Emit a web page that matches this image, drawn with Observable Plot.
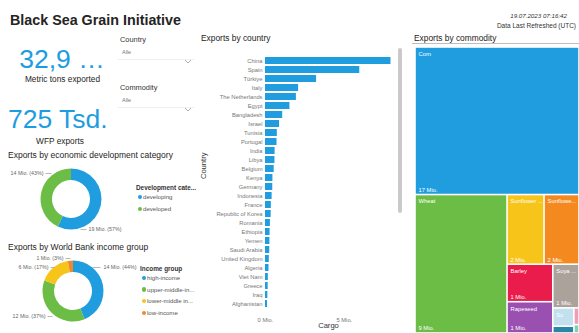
<!DOCTYPE html>
<html><head><meta charset="utf-8">
<script src="https://cdn.jsdelivr.net/npm/d3@7"></script>
<script src="https://cdn.jsdelivr.net/npm/@observablehq/plot@0.6"></script>
<style>
html,body{margin:0;padding:0;background:#fff;}
#root{position:relative;width:579px;height:333px;overflow:hidden;font-family:"Liberation Sans",Arial,sans-serif;color:#252423;}
.abs{position:absolute;white-space:nowrap;line-height:1;}
.plot{position:absolute;}
.plot svg{display:block;overflow:visible;}
</style></head><body><div id="root"></div>
<script>
// ---------- data ----------
const titleText = "Black Sea Grain Initiative";
const refreshedAt = "19.07.2023 07:16:42";
const refreshedLabel = "Data Last Refreshed (UTC)";
const kpiValues = ["32,9 …", "725 Tsd."];
const kpiLabels = ["Metric tons exported", "WFP exports"];
const slicerNames = ["Country", "Commodity"];
const slicerValues = ["Alle", "Alle"];

const devCategories = ["developing", "developed"];
const devValues = [18.8, 14.1];
const devColors = ["#1f9ddf", "#6cbd45"];

const incomeGroups = ["high-income", "upper-middle-in...", "lower-middle in...", "low-income"];
const incomeValues = [14.4, 12.1, 5.5, 0.9];
const incomeColors = ["#1f9ddf", "#6cbd45", "#f7c419", "#ef8a2c"];

const countries = ["China","Spain","Türkiye","Italy","The Netherlands","Egypt","Bangladesh","Israel","Tunisia","Portugal","India","Libya","Belgium","Kenya","Germany","Indonesia","France","Republic of Korea","Romania","Ethiopia","Yemen","Saudi Arabia","United Kingdom","Algeria","Viet Nam","Greece","Iraq","Afghanistan"];
const cargo = [7.96,5.98,3.24,2.10,1.96,1.55,1.09,0.89,0.75,0.73,0.61,0.60,0.55,0.47,0.46,0.42,0.37,0.36,0.31,0.29,0.28,0.27,0.24,0.22,0.18,0.17,0.15,0.13];
const cargoTicks = [0, 5];

const commodityLabels = ["Corn","Wheat","Sunflower ...","Sunflowe...","Barley","Rapeseed","Soya ...","Sc","","",""];
const commodityValues = [16.9, 8.9, 1.8, 1.7, 1.2, 1.0, 0.8, 0.27, 0.1, 0.06, 0.03];
const commodityColors = ["#1f9ddf","#6cbd45","#f7c419","#f4891f","#e91c4c","#9a50b0","#aba29c","#c3e0ef","#2b86a5","#f19db5","#7fd0b8"];

// ---------- helpers ----------
const root = document.getElementById("root");
function put(text, left, top, style = {}) {
  const d = document.createElement("div");
  d.className = "abs";
  d.textContent = text;
  d.style.left = left + "px";
  d.style.top = top + "px";
  Object.assign(d.style, style);
  root.appendChild(d);
  return d;
}
function fitWidth(el, target) {
  const w = el.getBoundingClientRect().width;
  if (w > 0) {
    el.style.transformOrigin = "left top";
    el.style.transform = `scaleX(${target / w})`;
  }
}
function placePlot(svg, left, top) {
  const w = document.createElement("div");
  w.className = "plot";
  w.style.left = left + "px";
  w.style.top = top + "px";
  w.appendChild(svg);
  root.appendChild(w);
}
const fmtMio = v => Math.round(v) + " Mio.";

// ---------- header ----------
const titleEl = put(titleText, 10, 12, {fontSize: "15.4px", fontWeight: "bold", color: "#252423"});
fitWidth(titleEl, 171);
put(refreshedAt, null, 13, {right: "12px", left: "auto", fontSize: "6.2px", fontStyle: "italic", color: "#333"});
put(refreshedLabel, null, 23, {right: "3px", left: "auto", fontSize: "6.5px", color: "#333"});

// ---------- KPIs ----------
put(kpiValues[0], 0, 45.5, {fontSize: "26.5px", color: "#1c9ddf", width: "124px", textAlign: "center"});
put(kpiLabels[0], 0, 75, {fontSize: "8.3px", color: "#252423", width: "125px", textAlign: "center"});
put(kpiValues[1], 8, 105.6, {fontSize: "26.5px", color: "#1c9ddf"});
put(kpiLabels[1], 0, 137, {fontSize: "8.3px", color: "#252423", width: "120px", textAlign: "center"});

// ---------- slicers ----------
slicerNames.forEach((n, i) => {
  const y0 = 35.5 + i * 48;
  put(n, 120, y0, {fontSize: "7.4px", color: "#333"});
  put(slicerValues[i], 122, y0 + 14, {fontSize: "5.5px", color: "#777"});
  const ch = document.createElementNS("http://www.w3.org/2000/svg", "svg");
  ch.setAttribute("width", 8); ch.setAttribute("height", 5);
  ch.innerHTML = '<polyline points="1,1 4,4 7,1" fill="none" stroke="#888" stroke-width="0.7"/>';
  const cd = document.createElement("div");
  cd.className = "abs"; cd.style.left = "184px"; cd.style.top = (y0 + 15) + "px";
  cd.appendChild(ch); root.appendChild(cd);
  const ln = document.createElement("div");
  ln.className = "abs"; ln.style.left = "118px"; ln.style.top = (y0 + 23) + "px";
  ln.style.width = "76px"; ln.style.height = "1px"; ln.style.background = "#f0f0f0";
  root.appendChild(ln);
});

// ---------- section headers ----------
put("Exports by economic development category", 8, 151, {fontSize: "8.5px", color: "#252423"});
put("Exports by World Bank income group", 8, 243, {fontSize: "8.5px", color: "#252423"});
put("Exports by country", 201, 34, {fontSize: "8.4px", color: "#252423"});
put("Exports by commodity", 414, 34, {fontSize: "8.4px", color: "#252423"});
const rule = document.createElement("div");
rule.className = "abs"; rule.style.left = "412px"; rule.style.top = "43px";
rule.style.width = "167px"; rule.style.height = "1px"; rule.style.background = "#bdbdbd";
root.appendChild(rule);
const scroll = document.createElement("div");
scroll.className = "abs"; scroll.style.left = "398px"; scroll.style.top = "48px";
scroll.style.width = "4px"; scroll.style.height = "165px"; scroll.style.background = "#cacaca";
scroll.style.borderRadius = "2px";
root.appendChild(scroll);

// ---------- donuts ----------
function arcMark(values, colors, rOuter, rInner) {
  return (index, scales) => {
    const cx = scales.x(0), cy = scales.y(0);
    const arcs = d3.pie().sort(null).value(d => d)(values);
    const arc = d3.arc().innerRadius(rInner).outerRadius(rOuter);
    const g = d3.create("svg:g").attr("transform", `translate(${cx},${cy})`);
    g.selectAll("path").data(arcs).join("path").attr("d", arc).attr("fill", (d, i) => colors[i]);
    return g.node();
  };
}
function donut({left, top, width, height, cx, cy, values, colors, labelLayout}) {
  const total = d3.sum(values);
  const labels = values.map((v, i) => ({
    text: fmtMio(v) + " (" + Math.round(100 * v / total) + "%)",
    ...labelLayout[i]
  }));
  const textOpts = {x: "tx", y: "ty", text: "text", fill: "#666", fontSize: 5.3};
  const svg = Plot.plot({
    width, height, margin: 0,
    x: {domain: [-cx, width - cx], range: [0, width], axis: null},
    y: {domain: [-cy, height - cy], range: [0, height], axis: null},
    style: {fontFamily: "Liberation Sans, Arial, sans-serif", background: "transparent"},
    marks: [
      arcMark(values, colors, 30.5, 19),
      Plot.link(labels, {x1: "l1", x2: "l2", y1: "ty", y2: "ty", stroke: "#9a9a9a", strokeWidth: 0.7}),
      Plot.text(labels.filter(d => d.anchor === "start"), {...textOpts, textAnchor: "start"}),
      Plot.text(labels.filter(d => d.anchor === "end"), {...textOpts, textAnchor: "end"})
    ]
  });
  placePlot(svg, left, top);
}
donut({
  left: 0, top: 160, width: 135, height: 75, cx: 71, cy: 39,
  values: devValues, colors: devColors,
  labelLayout: [
    {tx: 17, ty: 30, anchor: "start", l1: 9, l2: 15},
    {tx: -28, ty: -26, anchor: "end", l1: -26, l2: -20}
  ]
});
donut({
  left: 0, top: 250, width: 140, height: 78, cx: 73, cy: 41,
  values: incomeValues, colors: incomeColors,
  labelLayout: [
    {tx: 30, ty: -24, anchor: "start", l1: 19, l2: 27},
    {tx: -28, ty: 25, anchor: "end", l1: -26, l2: -21},
    {tx: -25, ty: -24, anchor: "end", l1: -23, l2: -19},
    {tx: -10, ty: -33, anchor: "end", l1: -8, l2: -3}
  ]
});

// legends
function legend(title, names, colors, x, y, step) {
  put(title, x, y - 3.2, {fontSize: "6.4px", color: "#333", fontWeight: "bold"});
  names.forEach((n, i) => {
    const yy = y + 9 + i * step;
    const dot = document.createElement("div");
    dot.className = "abs";
    Object.assign(dot.style, {left: (x + 1.5) + "px", top: (yy - 2.3) + "px", width: "4.6px", height: "4.6px", borderRadius: "50%", background: colors[i]});
    root.appendChild(dot);
    put(n, x + 7, yy - 3, {fontSize: "6.1px", color: "#555"});
  });
}
legend("Development cate...", devCategories, devColors, 136, 188, 12);
legend("Income group", incomeGroups, incomeColors, 140, 269, 11.6);

// ---------- bar chart ----------
const barData = countries.map((c, i) => ({country: c, value: cargo[i]}));
const barSvg = Plot.plot({
  width: 212, height: 293,
  marginLeft: 75, marginRight: 3, marginTop: 9.2, marginBottom: 19,
  x: {domain: [0, 8.5]},
  y: {domain: countries, padding: 0.25},
  style: {fontFamily: "Liberation Sans, Arial, sans-serif", fontSize: "5.8px", background: "transparent"},
  marks: [
    Plot.barX(barData, {x: "value", y: "country", fill: "#1f9ddf"}),
    Plot.axisY({tickSize: 0, tickPadding: 3, label: null, color: "#777", fontSize: 5.8}),
    Plot.axisX({ticks: cargoTicks, tickFormat: fmtMio, tickSize: 0, tickPadding: 3.5, label: null, color: "#777", fontSize: 5.8}),
    Plot.text(["Country"], {frameAnchor: "left", dx: -62, dy: -3, rotate: -90, fontSize: 7.6, fill: "#333"}),
    Plot.text(["Cargo"], {frameAnchor: "bottom", dx: -4, dy: 13, fontSize: 7.6, fill: "#333"})
  ]
});
placePlot(barSvg, 190, 40);

// ---------- treemap ----------
const TW = 164, TH = 286;
const hier = d3.hierarchy({children: commodityValues.map((v, i) => ({label: commodityLabels[i], value: v, color: commodityColors[i]}))})
  .sum(d => d.value || 0)
  .sort((a, b) => b.value - a.value);
const leaves = d3.treemap().size([TW, TH]).tile(d3.treemapSquarify)(hier).leaves();
const treeSvg = Plot.plot({
  width: TW, height: TH, margin: 0,
  x: {domain: [0, TW], range: [0, TW], axis: null},
  y: {domain: [0, TH], range: [0, TH], axis: null},
  color: {type: "identity"},
  style: {fontFamily: "Liberation Sans, Arial, sans-serif", background: "transparent"},
  marks: [
    Plot.rect(leaves, {x1: "x0", x2: "x1", y1: "y0", y2: "y1", fill: d => d.data.color, inset: 0.8}),
    Plot.text(leaves.filter(d => d.data.label && d.x1 - d.x0 > 12 && d.y1 - d.y0 > 12),
      {x: "x0", y: "y0", text: d => d.data.label, dx: 3, dy: 6.5, textAnchor: "start", fill: "white", fontSize: 5.8}),
    Plot.text(leaves.filter(d => d.y1 - d.y0 > 25 && d.x1 - d.x0 > 12),
      {x: "x0", y: "y1", text: d => fmtMio(d.value), dx: 3, dy: -5, textAnchor: "start", fill: "white", fontSize: 5.8})
  ]
});
placePlot(treeSvg, 415, 47);
</script>
</body></html>
